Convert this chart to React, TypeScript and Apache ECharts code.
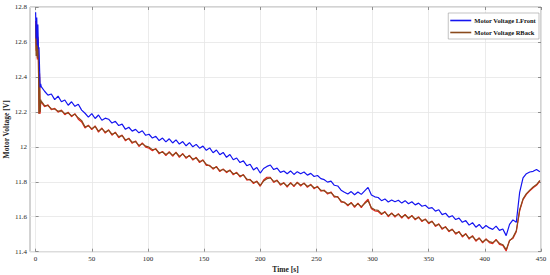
import React, { useEffect, useRef } from "react";
import * as echarts from "echarts";

const times = [0, 0.5, 1, 1.5, 2, 2.5, 3, 3.5, 4, 4.5,
  5, 8, 11, 14, 17, 20, 23, 26, 29, 32, 35, 38, 41, 44, 47, 50, 53, 56, 59, 62, 65, 68, 71, 74, 77, 80, 83, 86, 89, 92, 95, 98,
  101, 104, 107, 110, 113, 116, 119, 122, 125, 128, 131, 134, 137, 140, 143, 146, 149, 152, 155, 158, 161, 164, 167, 170, 173, 176, 179, 182, 185, 188, 191, 194, 197, 200,
  203, 206, 209, 212, 215, 218, 221, 224, 227, 230, 233, 236, 239, 242, 245, 248, 251, 254, 257, 260, 263, 266, 269, 272, 275, 278, 281, 284, 287, 290, 293, 296, 299, 302,
  305, 308, 311, 314, 317, 320, 323, 326, 329, 332, 335, 338, 341, 344, 347, 350, 353, 356, 359, 362, 365, 368, 371, 374, 377, 380, 383, 386, 389, 392, 395, 398, 401, 404,
  407, 410, 413, 416, 419, 422, 425, 428, 431, 434, 437, 440, 443, 446, 449];

const lfront = [12.77, 12.62, 12.74, 12.58, 12.7, 12.56, 12.57, 12.45, 12.34, 12.36,
  12.345, 12.318, 12.296, 12.302, 12.27, 12.29, 12.258, 12.268, 12.238, 12.258, 12.232, 12.244, 12.21, 12.192, 12.17, 12.19, 12.162, 12.182, 12.152, 12.164, 12.158, 12.136, 12.146, 12.122, 12.13, 12.1, 12.112, 12.09, 12.1, 12.08, 12.092, 12.066,
  12.072, 12.05, 12.06, 12.036, 12.05, 12.028, 12.046, 12.022, 12.04, 12.016, 12.03, 12.006, 12.024, 12.0, 12.014, 11.992, 12.004, 11.98, 11.994, 11.966, 11.982, 11.955, 11.968, 11.94, 11.956, 11.926, 11.936, 11.91, 11.92, 11.892, 11.9, 11.868, 11.882, 11.85,
  11.876, 11.888, 11.896, 11.87, 11.878, 11.854, 11.862, 11.846, 11.862, 11.842, 11.858, 11.846, 11.856, 11.838, 11.848, 11.83, 11.836, 11.818, 11.812, 11.798, 11.804, 11.78, 11.776, 11.752, 11.74, 11.73, 11.744, 11.726, 11.742, 11.728, 11.748, 11.768, 11.724, 11.714,
  11.71, 11.692, 11.702, 11.684, 11.696, 11.686, 11.694, 11.678, 11.692, 11.674, 11.686, 11.668, 11.678, 11.66, 11.666, 11.648, 11.652, 11.632, 11.64, 11.612, 11.62, 11.598, 11.606, 11.584, 11.592, 11.568, 11.578, 11.552, 11.566, 11.54, 11.556, 11.532, 11.55, 11.536,
  11.528, 11.546, 11.522, 11.53, 11.492, 11.556, 11.582, 11.568, 11.74, 11.822, 11.846, 11.856, 11.86, 11.87, 11.858];

const rback = [12.7, 12.52, 12.68, 12.51, 12.62, 12.5, 12.19, 12.4, 12.2, 12.27,
  12.262, 12.236, 12.236, 12.218, 12.216, 12.204, 12.206, 12.19, 12.194, 12.178, 12.186, 12.166, 12.15, 12.114, 12.12, 12.104, 12.116, 12.09, 12.104, 12.084, 12.094, 12.072, 12.08, 12.058, 12.064, 12.04, 12.046, 12.026, 12.03, 12.008, 12.018, 12.004,
  11.998, 11.984, 11.986, 11.966, 11.97, 11.956, 11.968, 11.952, 11.966, 11.946, 11.958, 11.94, 11.948, 11.93, 11.936, 11.916, 11.922, 11.9, 11.89, 11.878, 11.884, 11.864, 11.87, 11.858, 11.864, 11.846, 11.85, 11.834, 11.838, 11.816, 11.81, 11.796, 11.8, 11.78,
  11.804, 11.818, 11.822, 11.802, 11.806, 11.786, 11.792, 11.776, 11.792, 11.778, 11.794, 11.782, 11.79, 11.774, 11.782, 11.766, 11.77, 11.752, 11.748, 11.736, 11.738, 11.718, 11.712, 11.69, 11.68, 11.668, 11.678, 11.66, 11.674, 11.658, 11.676, 11.692, 11.652, 11.64,
  11.636, 11.618, 11.626, 11.606, 11.618, 11.604, 11.614, 11.598, 11.61, 11.594, 11.604, 11.588, 11.596, 11.578, 11.584, 11.566, 11.572, 11.55, 11.556, 11.534, 11.54, 11.52, 11.526, 11.506, 11.512, 11.49, 11.5, 11.478, 11.488, 11.466, 11.476, 11.456, 11.47, 11.458,
  11.452, 11.466, 11.448, 11.44, 11.412, 11.462, 11.482, 11.52, 11.64, 11.702, 11.732, 11.752, 11.77, 11.784, 11.808];

const rbackRaw = [12.72, 12.55, 12.7, 12.5, 12.63, 12.48, 12.19, 12.42, 12.19, 12.25,
  12.256, 12.23, 12.24, 12.212, 12.22, 12.198, 12.21, 12.184, 12.198, 12.172, 12.19, 12.158, 12.142, 12.108, 12.124, 12.098, 12.12, 12.084, 12.108, 12.078, 12.098, 12.066, 12.084, 12.052, 12.068, 12.034, 12.05, 12.02, 12.034, 12.002, 12.022, 11.998,
  11.992, 11.978, 11.99, 11.96, 11.974, 11.95, 11.972, 11.946, 11.97, 11.94, 11.962, 11.934, 11.952, 11.924, 11.94, 11.91, 11.926, 11.894, 11.894, 11.872, 11.888, 11.858, 11.874, 11.852, 11.868, 11.84, 11.854, 11.828, 11.842, 11.81, 11.814, 11.79, 11.804, 11.774,
  11.81, 11.826, 11.826, 11.796, 11.81, 11.78, 11.796, 11.77, 11.796, 11.772, 11.798, 11.776, 11.794, 11.768, 11.786, 11.76, 11.774, 11.746, 11.752, 11.73, 11.742, 11.712, 11.716, 11.684, 11.684, 11.662, 11.682, 11.654, 11.678, 11.652, 11.68, 11.7, 11.646, 11.634,
  11.63, 11.612, 11.63, 11.6, 11.622, 11.598, 11.618, 11.592, 11.614, 11.588, 11.608, 11.582, 11.6, 11.572, 11.588, 11.56, 11.576, 11.544, 11.56, 11.528, 11.544, 11.514, 11.53, 11.5, 11.516, 11.484, 11.504, 11.472, 11.492, 11.46, 11.48, 11.45, 11.474, 11.452,
  11.446, 11.47, 11.442, 11.436, 11.404, 11.466, 11.476, 11.514, 11.634, 11.698, 11.728, 11.748, 11.766, 11.78, 11.804];

const xTicks = { min: 0, max: 450, interval: 50 };
const yTicks = { min: 11.4, max: 12.8, interval: 0.2 };

const FONT = "Liberation Serif";

function pairs(vals: number[]) {
  const n = Math.min(times.length, vals.length);
  const out: number[][] = [];
  for (let i = 0; i < n; i++) out.push([times[i], vals[i]]);
  return out;
}

export default function App() {
  const ref = useRef<HTMLDivElement>(null);
  useEffect(() => {
    if (!ref.current) return;
    const chart = echarts.init(ref.current, undefined, { renderer: "svg" });
    const gridPos = { top: 7, bottom: 23.3, right: 9, outerBoundsMode: "none", containLabel: false };
    const boxColor = "#a6a6a6";
    const splitColor = "#e6e6e6";
    const tick = { show: true, inside: true, length: 3, lineStyle: { color: "#777", width: 0.8 } };
    chart.setOption({
      animation: false,
      backgroundColor: "#ffffff",
      textStyle: { fontFamily: FONT },
      grid: [
        { ...gridPos, left: 30, show: true, borderColor: boxColor, borderWidth: 1, backgroundColor: "transparent" },
        { ...gridPos, left: 35.6 },
      ],
      legend: {
        data: [
          { name: "Motor Voltage LFront", icon: "rect" },
          { name: "Motor Voltage RBack", icon: "rect" },
        ],
        orient: "vertical",
        right: 11,
        top: 13,
        itemWidth: 21,
        itemHeight: 1.6,
        itemGap: 5,
        padding: [4, 3, 3, 2],
        borderColor: "#9a9a9a",
        borderWidth: 0.6,
        backgroundColor: "#ffffff",
        textStyle: { fontFamily: FONT, fontWeight: "bold", fontSize: 6.5, color: "#111", padding: [0, 0, 0, -2] },
      },
      xAxis: [
        {
          gridIndex: 0, type: "value", min: -5, max: 450,
          axisLine: { show: false }, axisTick: { show: false }, axisLabel: { show: false }, splitLine: { show: false },
          name: "Time [s]", nameLocation: "middle", nameGap: 14, nameMoveOverlap: false,
          nameTextStyle: { fontFamily: FONT, fontWeight: "bold", fontSize: 7.5, color: "#222" },
        },
        {
          gridIndex: 1, type: "value", ...xTicks, position: "bottom",
          axisLine: { show: false },
          axisTick: tick,
          axisLabel: { fontFamily: FONT, fontSize: 7, color: "#262626", margin: 4 },
          splitLine: { show: true, lineStyle: { color: splitColor, width: 0.8 } },
        },
        {
          gridIndex: 1, type: "value", ...xTicks, position: "top",
          axisLine: { show: false },
          axisTick: tick,
          axisLabel: { show: false }, splitLine: { show: false },
        },
      ],
      yAxis: [
        {
          gridIndex: 0, type: "value", ...yTicks, position: "left",
          axisLine: { show: false },
          axisTick: tick,
          axisLabel: { fontFamily: FONT, fontSize: 7, color: "#262626", margin: 3 },
          splitLine: { show: true, lineStyle: { color: splitColor, width: 0.8 } },
          name: "Motor Voltage [V]", nameLocation: "middle", nameGap: 20, nameMoveOverlap: false,
          nameTextStyle: { fontFamily: FONT, fontWeight: "bold", fontSize: 7.5, color: "#222" },
        },
        {
          gridIndex: 0, type: "value", ...yTicks, position: "right",
          axisLine: { show: false },
          axisTick: tick,
          axisLabel: { show: false }, splitLine: { show: false },
        },
        { gridIndex: 1, type: "value", min: 0, max: 1, show: false },
      ],
      series: [
        {
          name: "RBack raw", type: "line", xAxisIndex: 0, yAxisIndex: 0, data: pairs(rbackRaw),
          symbol: "none", lineStyle: { color: "#e8231c", width: 1.2 }, itemStyle: { color: "#e8231c" }, z: 1,
        },
        {
          name: "Motor Voltage RBack", type: "line", xAxisIndex: 0, yAxisIndex: 0, data: pairs(rback),
          symbol: "none", lineStyle: { color: "#8a4a1c", width: 1.2 }, itemStyle: { color: "#8a4a1c" }, z: 2,
        },
        {
          name: "Motor Voltage LFront", type: "line", xAxisIndex: 0, yAxisIndex: 0, data: pairs(lfront),
          symbol: "none", lineStyle: { color: "#1414f0", width: 1.2 }, itemStyle: { color: "#1414f0" }, z: 3,
        },
      ],
    });
    return () => chart.dispose();
  }, []);
  return <div ref={ref} style={{ position: "fixed", left: 0, top: 0, width: 550, height: 275 }} />;
}
